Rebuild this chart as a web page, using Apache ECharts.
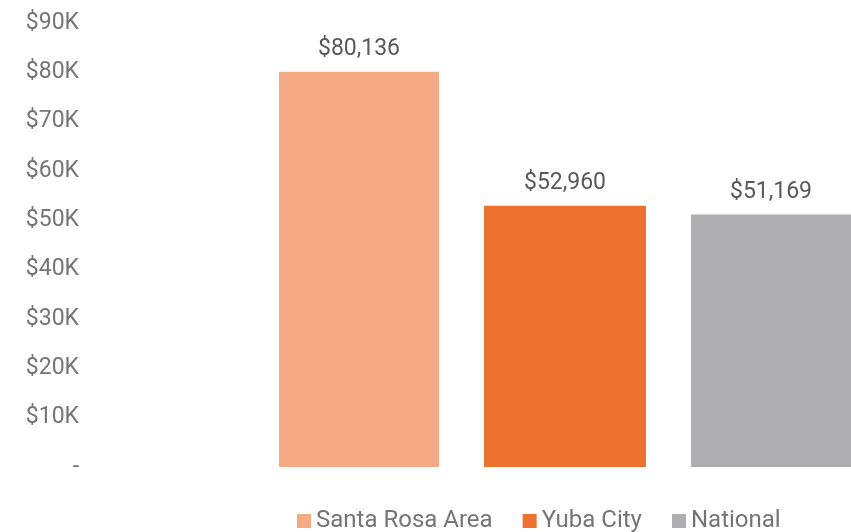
<!DOCTYPE html>
<html>
<head>
<meta charset="utf-8">
<script src="https://cdn.jsdelivr.net/npm/echarts@6/dist/echarts.min.js"></script>
<style>html,body{margin:0;padding:0;background:#fff;}#chart{width:851px;height:532px;}</style>
</head>
<body>
<div id="chart"></div>
<script>
var categories = ['Income'];
var seriesNames = ['Santa Rosa Area', 'Yuba City', 'National'];
var seriesValues = [80136, 52960, 51169];
var seriesColors = ['#F4AA84', '#ED722F', '#AEADAF'];

var chart = echarts.init(document.getElementById('chart'));

function money(v) {
    return '$' + v.toLocaleString('en-US');
}

var series = seriesNames.map(function (name, i) {
    return {
        name: name,
        type: 'bar',
        data: [seriesValues[i]],
        barWidth: 162,
        barGap: '27.78%',
        barCategoryGap: 0,
        itemStyle: { color: seriesColors[i] },
        label: {
            show: true,
            position: 'top',
            distance: 11,
            color: '#595959',
            fontFamily: 'Roboto',
            fontSize: 23,
            formatter: function (p) { return money(p.value); }
        }
    };
});

chart.setOption({
    animation: false,
    grid: { left: 279, width: 576, top: 23, bottom: 65 },
    legend: {
        top: 509,
        left: 297,
        padding: 0,
        itemWidth: 14,
        itemHeight: 14,
        itemGap: 30,
        icon: 'rect',
        textStyle: { color: '#757575', fontFamily: 'Roboto', fontSize: 24 },
        data: seriesNames
    },
    xAxis: {
        type: 'category',
        data: categories,
        axisLine: { show: false },
        axisTick: { show: false },
        axisLabel: { show: false }
    },
    yAxis: {
        type: 'value',
        min: 0,
        max: 90000,
        interval: 10000,
        splitLine: { show: false },
        axisLine: { show: false },
        axisTick: { show: false },
        axisLabel: {
            margin: 200,
            color: '#757575',
            fontFamily: 'Roboto',
            fontSize: 23,
            formatter: function (v) { return v === 0 ? '-' : '$' + (v / 1000) + 'K'; }
        }
    },
    series: series
});
</script>
</body>
</html>
